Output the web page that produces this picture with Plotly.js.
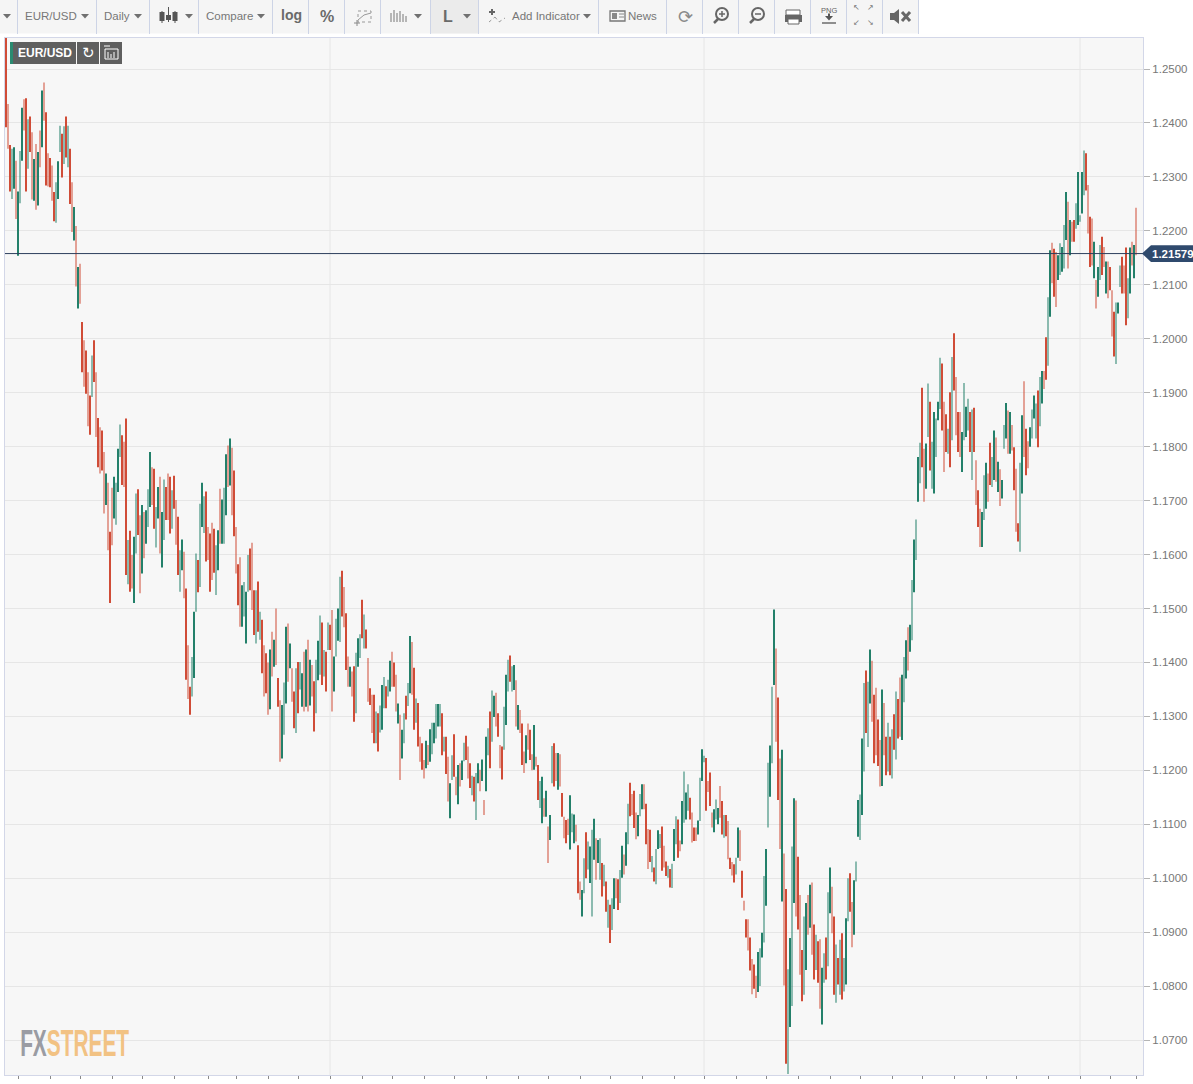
<!DOCTYPE html>
<html><head><meta charset="utf-8">
<script src="https://cdn.plot.ly/plotly-3.0.1.min.js"></script>
<style>html,body{margin:0;padding:0;background:#fff;overflow:hidden}#c{position:absolute;left:0;top:0;width:1193px;height:1084px}</style>
</head><body><div id="c"></div>
<script>
// EUR/USD daily bars, in pips above 1.0000.
const highs=[
2560,2435,2359,2352,2355,2330,2273,2348,2428,2444,
2446,2407,2412,2383,2333,2361,2346,2386,2460,2475,
2420,2344,2335,2321,2272,2290,2329,2395,2380,2394,
2412,2395,2352,2290,2244,2209,2133,2139,2031,1997,
1978,1938,1895,1969,1997,1938,1853,1836,1830,1790,
1750,1733,1642,1724,1744,1733,1796,1841,1821,1809,
1852,1627,1644,1599,1633,1713,1721,1673,1692,1679,
1682,1721,1790,1762,1759,1688,1725,1744,1679,1739,
1725,1750,1744,1719,1746,1701,1670,1608,1628,1605,
1537,1432,1355,1410,1494,1602,1590,1694,1733,1708,
1717,1651,1639,1659,1648,1617,1645,1722,1702,1724,
1786,1802,1815,1798,1756,1651,1582,1595,1543,1549,
1531,1599,1611,1622,1534,1534,1550,1494,1479,1432,
1417,1400,1424,1457,1442,1500,1371,1330,1321,1363,
1466,1472,1435,1389,1346,1389,1401,1401,1380,1420,
1424,1442,1405,1395,1365,1405,1440,1487,1474,1423,
1420,1474,1470,1497,1411,1481,1500,1559,1570,1540,
1491,1411,1392,1383,1393,1418,1445,1452,1516,1489,
1461,1408,1352,1340,1340,1309,1306,1320,1358,1373,
1356,1368,1403,1420,1400,1377,1324,1303,1275,1306,
1338,1362,1449,1438,1390,1333,1325,1262,1250,1219,
1255,1247,1276,1288,1288,1323,1323,1323,1306,1262,
1262,1225,1176,1228,1267,1188,1210,1213,1218,1251,
1264,1244,1213,1190,1188,1195,1213,1201,1220,1145,
1262,1278,1309,1348,1338,1344,1306,1247,1244,1318,
1377,1405,1413,1393,1395,1367,1321,1312,1287,1235,
1265,1287,1275,1230,1284,1225,1210,1180,1188,1148,
1162,1096,1117,1245,1250,1232,1232,1230,1158,1114,
1108,1110,1154,1120,1118,1099,1061,994,978,1037,
1085,1068,1059,1090,1110,1074,1071,1074,1028,1025,
994,960,951,963,1000,1000,998,1015,1060,1044,
1085,1138,1177,1156,1162,1122,1117,1156,1174,1174,
1138,1091,1090,1041,1020,1054,1089,1082,1096,1060,
1031,1023,1017,1027,1091,1115,1109,1070,1143,1198,
1159,1174,1149,1122,1094,1094,1107,1186,1239,1227,
1223,1180,1196,1122,1128,1146,1130,1171,1143,1117,
1117,1106,1038,1030,1026,1038,1094,1089,1014,958,
924,924,890,850,840,819,863,870,899,1004,
1054,1214,1246,1355,1498,1426,1335,1222,1238,1046,
980,831,889,1059,1148,1144,1040,969,867,929,
954,969,988,992,914,895,883,887,834,861,
890,974,1020,984,929,877,852,886,898,852,
926,1000,1009,956,996,1031,1145,1155,1259,1362,
1385,1364,1424,1403,1340,1353,1294,1256,1350,1325,
1262,1288,1262,1276,1304,1346,1332,1372,1377,1410,
1441,1465,1470,1553,1628,1665,1781,1807,1909,1796,
1806,1917,1883,1809,1864,1852,1883,1965,1954,1883,
1860,1833,1901,1966,2010,1929,1864,1864,1827,1918,
1874,1889,1864,1869,1872,1775,1719,1685,1679,1747,
1770,1750,1807,1781,1830,1817,1772,1758,1738,1840,
1881,1867,1864,1840,1799,1759,1658,1770,1858,1921,
1833,1810,1836,1869,1895,1880,1904,1929,1940,1940,
2003,2077,2164,2178,2167,2161,2155,2177,2170,2211,
2272,2254,2220,2217,2220,2251,2309,2229,2309,2349,
2344,2285,2226,2223,2180,2109,2133,2174,2189,2170,
2143,2143,2133,2090,2050,2067,2067,2136,2152,2136,
2169,2112,2169,2180,2174,2243];
const lows=[
2392,2352,2273,2259,2278,2222,2154,2251,2330,2386,
2273,2315,2346,2258,2256,2239,2247,2318,2355,2404,
2284,2282,2281,2256,2218,2215,2259,2346,2299,2324,
2336,2318,2250,2198,2182,2097,2056,2065,1938,1911,
1898,1838,1822,1892,1920,1818,1762,1750,1756,1676,
1692,1608,1510,1617,1667,1655,1716,1781,1729,1725,
1562,1545,1531,1537,1510,1602,1636,1528,1565,1593,
1620,1651,1688,1692,1648,1613,1667,1602,1576,1627,
1664,1664,1639,1648,1685,1618,1562,1531,1571,1519,
1368,1332,1303,1337,1371,1494,1530,1540,1651,1640,
1587,1590,1531,1553,1566,1525,1571,1620,1620,1620,
1673,1725,1728,1673,1634,1565,1506,1466,1466,1485,
1435,1531,1534,1497,1451,1435,1457,1442,1380,1337,
1343,1303,1313,1374,1392,1395,1318,1216,1222,1266,
1324,1364,1389,1327,1278,1269,1306,1350,1318,1309,
1318,1309,1320,1337,1272,1306,1367,1377,1358,1374,
1346,1423,1423,1309,1346,1411,1440,1438,1485,1465,
1386,1355,1355,1337,1290,1306,1392,1408,1445,1426,
1426,1327,1321,1269,1250,1250,1235,1270,1275,1315,
1315,1337,1346,1355,1355,1309,1287,1182,1222,1250,
1294,1319,1343,1340,1275,1288,1244,1216,1201,1185,
1204,1210,1216,1230,1250,1259,1281,1281,1228,1235,
1193,1142,1111,1182,1188,1154,1137,1170,1182,1217,
1219,1185,1167,1154,1142,1108,1176,1161,1180,1117,
1161,1228,1204,1253,1299,1281,1262,1204,1183,1238,
1284,1346,1364,1346,1349,1281,1275,1269,1210,1195,
1213,1238,1219,1200,1201,1207,1145,1130,1102,1114,
1114,1028,1071,1176,1170,1180,1164,1170,1114,1074,
1065,1080,1053,1085,1065,1068,972,960,929,972,
1000,1016,991,929,1034,997,1028,997,966,985,
938,908,880,904,943,963,941,954,1001,1007,
1023,1063,1115,1117,1093,1072,1078,1115,1128,1128,
1063,1017,1030,1011,994,989,1054,1056,1014,1020,
1004,1001,983,982,1032,1063,1038,1050,1063,1103,
1109,1125,1109,1066,1069,1069,1081,1106,1180,1215,
1125,1160,1134,1094,1085,1109,1100,1112,1081,1075,
1078,1035,1017,1005,992,1007,1038,1032,964,940,
890,866,829,785,795,778,789,800,853,881,
949,1094,1151,1213,1358,1253,1145,1054,957,801,
656,637,724,763,954,929,905,821,772,784,
830,895,908,858,812,830,806,758,729,806,
812,837,935,898,784,769,803,784,775,790,
803,920,938,872,895,994,1077,1071,1117,1198,
1269,1243,1324,1290,1213,1228,1208,1170,1171,1228,
1191,1198,1191,1185,1238,1220,1259,1262,1256,1326,
1370,1385,1420,1441,1530,1590,1698,1732,1762,1698,
1722,1818,1756,1722,1713,1781,1849,1870,1830,1753,
1790,1787,1762,1812,1904,1821,1790,1781,1753,1812,
1818,1830,1790,1738,1790,1692,1651,1614,1614,1664,
1685,1698,1729,1725,1738,1735,1716,1690,1704,1796,
1815,1787,1787,1793,1719,1642,1624,1605,1713,1781,
1747,1760,1800,1815,1852,1815,1799,1838,1880,1907,
1924,1950,2041,2103,2078,2059,2109,2118,2124,2130,
2183,2130,2155,2180,2180,2204,2211,2217,2232,2266,
2275,2195,2133,2136,2112,2056,2078,2109,2118,2133,
2084,2075,2090,2004,1967,1953,2047,2096,2084,2084,
2025,2038,2084,2136,2112,2155];
const ups=[
0,0,0,1,1,0,1,1,1,0,
0,1,0,0,1,0,1,0,1,0,
0,0,0,0,0,1,1,1,0,1,
0,1,0,0,1,0,1,0,0,0,
0,0,0,1,0,0,0,0,0,0,
1,0,0,0,1,1,1,1,0,0,
0,1,0,0,1,1,0,0,1,0,
1,1,1,0,0,1,1,0,1,1,
0,0,0,1,0,0,0,1,1,0,
0,0,0,1,1,1,0,1,1,1,
0,0,0,0,0,1,1,0,1,1,
1,0,1,0,0,0,0,0,1,1,
1,1,0,0,0,1,0,1,0,0,
0,0,1,0,1,0,0,0,1,1,
1,0,1,0,0,1,0,1,1,0,
1,0,1,0,0,1,1,1,0,1,
0,1,0,0,1,1,1,1,0,0,
0,0,1,0,0,1,1,1,0,1,
0,0,0,0,0,1,0,1,1,1,
0,1,1,0,0,0,1,0,1,1,
0,1,1,0,0,1,0,0,0,0,
1,0,1,1,1,1,1,1,0,1,
0,0,1,1,0,0,1,0,1,1,
0,0,0,1,0,1,1,0,1,0,
1,1,0,1,1,0,0,0,0,1,
1,1,0,1,1,0,1,0,0,0,
1,0,0,0,1,0,0,1,1,0,
1,0,1,1,0,0,1,0,0,0,
0,0,1,1,1,0,0,0,1,1,
0,1,1,1,1,0,1,1,0,1,
0,1,0,1,1,0,0,1,1,0,
1,1,0,0,0,0,1,1,1,0,
0,0,0,1,0,1,1,1,0,0,
0,1,0,1,1,1,0,0,1,1,
1,1,0,0,0,0,1,1,1,1,
0,0,0,0,1,1,1,0,0,1,
0,0,0,0,0,1,1,0,0,0,
0,0,0,0,0,0,1,1,1,1,
1,1,1,1,1,0,0,0,1,0,
0,1,1,1,1,0,0,0,0,1,
1,0,1,0,0,1,0,0,1,1,
0,1,1,0,0,1,0,1,0,1,
1,1,0,0,1,1,1,1,1,1,
0,1,1,0,0,0,0,0,1,0,
0,1,0,1,0,1,0,0,1,1,
1,0,1,1,1,1,1,1,0,0,
1,1,0,1,1,1,1,1,0,0,
0,1,0,1,0,0,0,0,1,1,
1,1,0,1,0,0,0,0,1,1,
1,0,0,1,1,0,1,0,1,1,
1,0,1,0,0,0,0,1,1,0,
0,0,1,1,1,1,0,1,1,0,
0,1,1,0,0,0,1,1,1,1,
1,0,1,0,0,1,1,1,1,1,
0,0,0,0,1,0,1,1,0,0,
1,0,0,0,0,1,1,1,0,0,
0,1,1,0,1,0];
const yearStarts=[162,349,537];
const monthTicks=[6,22,37,53,68,84,101,115,131,146,162,178,193,209,224,240,256,271,287,302,318,334,349,365,380,396,412,427,443,458,474,490,505,521,537,552,565];
const lastPrice=1.21579;
const symbol="EUR/USD";
const GREEN='#23806a',RED='#d04c37',TXT='#777777';

const toPrice=p=>1+p/10000;
const n=Math.min(highs.length,lows.length,ups.length);
const idx=[...Array(n).keys()];
const H=idx.map(i=>toPrice(highs[i])),L=idx.map(i=>toPrice(lows[i]));

// page-pixel helpers for the toolbar chrome
const PX=x=>(x-5)/1138, PY=y=>(1075-y)/1037;
const shapes=[];
const rect=(x0,y0,x1,y1,fill,line)=>shapes.push({type:'rect',xref:'paper',yref:'paper',x0:PX(x0),x1:PX(x1),y0:PY(y0),y1:PY(y1),fillcolor:fill,line:line||{width:0}});
const seg=(x0,y0,x1,y1,color,w,dash)=>shapes.push({type:'line',xref:'paper',yref:'paper',x0:PX(x0),x1:PX(x1),y0:PY(y0),y1:PY(y1),line:{color:color,width:w||1,dash:dash||'solid'}});
const poly=(pts,fill)=>shapes.push({type:'path',xref:'paper',yref:'paper',path:'M'+pts.map(p=>PX(p[0])+' '+PY(p[1])).join('L')+'Z',fillcolor:fill,line:{width:0}});
const circ=(cx,cy,r,color,w)=>shapes.push({type:'circle',xref:'paper',yref:'paper',x0:PX(cx-r),x1:PX(cx+r),y0:PY(cy+r),y1:PY(cy-r),line:{color:color,width:w},fillcolor:'rgba(0,0,0,0)'});
const anns=[];
const txt=(x,y,t,size,color,bold,family)=>anns.push({xref:'paper',yref:'paper',x:PX(x),y:PY(y),text:bold?'<b>'+t+'</b>':t,showarrow:false,xanchor:'center',yanchor:'middle',borderpad:0,font:{size:size,color:color,family:family||'Liberation Sans, Arial, sans-serif'}});

// year grid lines
yearStarts.forEach(v=>shapes.push({type:'line',xref:'x',yref:'paper',x0:v,x1:v,y0:0,y1:1,layer:'below',line:{color:'#e6e6e6',width:1}}));

// toolbar
const seps=[17,96,149,198,272,308,344,380,430,478,598,666,702,738,774,810,846,882,918];
rect(0,0,918,33.5,'#f5f5f5');
rect(431,0,478,33.5,'#ebebeb');
seps.forEach(x=>seg(x+.5,0,x+.5,34,'#cdd4e6',1));
[7,85,138,189,261,418,467,587].forEach(x=>poly([[x-4,14],[x+4,14],[x,18.5]],'#707070'));
txt(51,16,symbol,11.5,TXT);txt(117,16,'Daily',11.5,TXT);txt(229,16,'Compare',11.5,TXT);
txt(291,15.5,'log',14,'#6a6a6a',true);txt(327,16.5,'%',16,'#6a6a6a',true);txt(448,16,'L',16,'#6a6a6a',true);
txt(546,16,'Add Indicator',11.5,TXT);txt(642,16,'News',11.5,TXT);
// candles icon
[[162,11,23,13,21],[168.5,7,22,16,20],[175,11,23,13,21]].forEach(c=>{seg(c[0],c[1],c[0],c[2],'#555',1);rect(c[0]-2.5,c[3]-1,c[0]+2.5,c[4],'#555');});
// chart-type icons
rect(358,11,371,22,'rgba(0,0,0,0)',{color:'#999',width:1,dash:'dot'});seg(358,20,364,15,'#999',1);seg(364,15,371,13,'#999',1);seg(357,20,357,26,'#888',1);seg(354,23,360,23,'#888',1);
[[391,12],[394,9],[397,12],[400,10],[403,13],[406,15]].forEach(b=>seg(b[0],22,b[0],b[1]+1,'#777',1));
seg(492,9,492,15,'#666',2);seg(489,12,495,12,'#666',2);
seg(489,22,495,17,'#999',1,'dot');seg(495,17,499,22,'#999',1,'dot');seg(499,22,505,18,'#999',1,'dot');
// news icon
rect(610,11,625,21,'rgba(0,0,0,0)',{color:'#777',width:1.3});rect(612,13,617,19,'#888');seg(619,14,624,14,'#888',1);seg(619,17,624,17,'#888',1);
txt(685,16,'⟳',18,'#8a8a8a',false,'DejaVu Sans');
// magnifiers
[[721,true],[757,false]].forEach(m=>{circ(m[0]+1,14,6,'#666',2);seg(m[0]-3,19,m[0]-7,23,'#666',2.5);seg(m[0]-2,14,m[0]+4,14,'#666',1.5);if(m[1])seg(m[0]+1,11,m[0]+1,17,'#666',1.5);});
// printer
rect(786,10,800,15,'#fff',{color:'#666',width:1});rect(785,15,802,22,'#666');rect(788,19,799,24,'#fff',{color:'#666',width:1});
txt(829,10.5,'PNG',7.5,'#666');poly([[825,16],[833,16],[829,20.5]],'#555');seg(829,13.5,829,17,'#555',2);seg(822,23,836,23,'#555',1.3);
// expand
[[856,8,'↖'],[871,8,'↗'],[856,22,'↙'],[871,22,'↘']].forEach(a=>txt(a[0],a[1],a[2],8,'#777',false,'DejaVu Sans'));
// mute
poly([[890,13],[894,13],[899,9],[899,24],[894,20],[890,20]],'#666');seg(902,12,910,21,'#666',3);seg(910,12,902,21,'#666',3);

// symbol badge
rect(10,42,76,64,'#5f5f5f');rect(10,42,13,64,'#2a8a70');rect(77,42,99,64,'#5f5f5f');rect(100,42,122,64,'#5f5f5f');
txt(44.5,53,symbol,12,'#ffffff',true);
txt(88.5,53,'↻',15,'#ffffff',false,'DejaVu Sans');
rect(105,49,118,59,'rgba(0,0,0,0)',{color:'#fff',width:1});seg(108,52,108,58,'#fff',1);seg(111,54,111,58,'#fff',1);seg(114,52,114,58,'#fff',1);seg(104,46,110,46,'#fff',1);

// last price line and flag
shapes.push({type:'line',xref:'paper',yref:'y',x0:0,x1:1,y0:lastPrice,y1:lastPrice,line:{color:'#2c3e5c',width:1}});
const dp=0.00155;
shapes.push({type:'path',xref:'paper',yref:'y',path:`M${PX(1142)} ${lastPrice}L${PX(1151)} ${lastPrice+dp}L${PX(1195)} ${lastPrice+dp}L${PX(1195)} ${lastPrice-dp}L${PX(1151)} ${lastPrice-dp}Z`,fillcolor:'#2f4a6d',line:{width:0}});
anns.push({xref:'paper',yref:'y',x:PX(1151),y:lastPrice,text:'<b>'+lastPrice.toFixed(5)+'</b>',showarrow:false,xanchor:'left',yanchor:'middle',borderpad:0,font:{size:11.5,color:'#fff',family:'Liberation Sans, Arial, sans-serif'}});

// logo: one text with two coloured parts
const logoFamily='Liberation Sans Narrow, Liberation Sans, Arial, sans-serif';
txt(74.5,1043,'<span style="color:#9a9ca3">FX</span><span style="color:#f2c283">STREET</span>',37,'#f2c283',true,logoFamily);

const trace={type:'bar',x:idx,base:L,y:idx.map(i=>H[i]-L[i]),width:idx.map(i=>i%2?0.5:1.0),hoverinfo:'skip',
  marker:{color:idx.map(i=>ups[i]?GREEN:RED),line:{width:0}}};

const layout={width:1193,height:1084,margin:{l:5,r:50,t:38,b:9,pad:0},paper_bgcolor:'#ffffff',plot_bgcolor:'#f7f7f7',showlegend:false,
  font:{family:'Liberation Sans, Arial, sans-serif',size:11,color:TXT},
  xaxis:{type:'linear',range:[-0.5,568.5],fixedrange:true,showgrid:false,zeroline:false,
    tickmode:'array',tickvals:monthTicks,ticks:'outside',ticklen:3,tickcolor:'#8a8a8a',showticklabels:false,
    showline:true,linecolor:'#d3d7e8',linewidth:1,mirror:true},
  yaxis:{side:'right',range:[1.06352,1.25575],fixedrange:true,dtick:0.01,tick0:1.07,tickformat:'.4f',showgrid:true,gridcolor:'#e6e6e6',gridwidth:1,zeroline:false,
    ticks:'outside',ticklen:6,tickcolor:'#b5b5b5',showline:true,linecolor:'#d3d7e8',linewidth:1,mirror:true,
    tickfont:{size:11.5,color:TXT}},
  shapes:shapes,annotations:anns};

Plotly.newPlot('c',[trace],layout,{displayModeBar:false,staticPlot:true}).then(()=>{
  document.querySelectorAll('.annotation-text').forEach(t=>{
    if(t.textContent==='FXSTREET'){t.setAttribute('textLength','109');t.setAttribute('lengthAdjust','spacingAndGlyphs');}
  });
});
</script></body></html>
